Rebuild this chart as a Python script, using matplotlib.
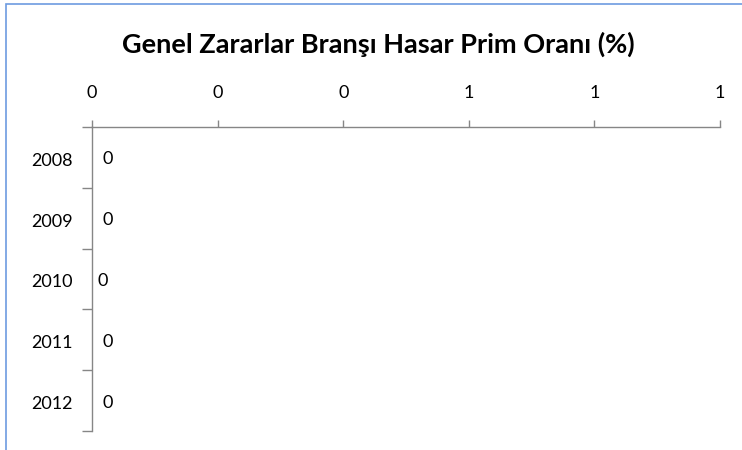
import matplotlib
matplotlib.use("Agg")
import matplotlib.pyplot as plt
import matplotlib.transforms as mtransforms
from matplotlib.patches import Rectangle
from matplotlib.ticker import FixedLocator, FixedFormatter

years = ["2008", "2009", "2010", "2011", "2012"]
values = [0.008, 0.008, 0.0, 0.008, 0.008]
xticks = [0.0, 0.2, 0.4, 0.6, 0.8, 1.0]
xtick_labels = ["0", "0", "0", "1", "1", "1"]
title = "Genel Zararlar Branşı Hasar Prim Oranı (%)"

plt.rcParams['font.family'] = ['Lato', 'DejaVu Sans']

W, H = 742, 450
fig = plt.figure(figsize=(W / 100, H / 100), dpi=100)
fig.patch.set_facecolor("white")

# outer chart border (light blue, left and top visible)
fig.add_artist(Rectangle((6 / W, -0.05), 1.2, 1 - 4 / H + 0.05, transform=fig.transFigure,
                         fill=False, edgecolor="#6d9be0", linewidth=1.2))

left, right, top, bottom = 92 / W, 720 / W, 1 - 127 / H, 1 - 431 / H
ax = fig.add_axes([left, bottom, right - left, top - bottom])
ax.set_facecolor("none")

pos = list(range(len(years)))
bars = ax.barh(pos, values, height=0.6, color="none", edgecolor="none")
ax.set_ylim(len(years) - 0.5, -0.5)
ax.set_xlim(0, 1.0)

for b, v in zip(bars, values):
    ax.annotate("%.0f" % v, xy=(b.get_width(), b.get_y() + b.get_height() / 2),
                xytext=(5 * 0.72, -2 * 0.72), textcoords="offset points",
                ha="left", va="center", fontsize=13, color="#000000")

ax.xaxis.tick_top()
ax.xaxis.set_major_locator(FixedLocator(xticks))
ax.xaxis.set_major_formatter(FixedFormatter(xtick_labels))
ax.tick_params(axis="x", direction="out", length=5, width=1, color="#868686",
               pad=14, labelsize=13, labelcolor="#000000")

ax.yaxis.set_major_locator(FixedLocator([p - 0.5 for p in pos] + [len(years) - 0.5]))
ax.yaxis.set_major_formatter(FixedFormatter([""] * (len(years) + 1)))
ax.yaxis.set_minor_locator(FixedLocator(pos))
ax.yaxis.set_minor_formatter(FixedFormatter(years))
ax.tick_params(axis="y", which="major", direction="out", length=7, width=1, color="#868686")
ax.tick_params(axis="y", which="minor", length=0, pad=14, labelsize=13, labelcolor="#000000")

shift = mtransforms.ScaledTranslation(0, -2 / 100, fig.dpi_scale_trans)
for lbl in ax.yaxis.get_minorticklabels():
    lbl.set_transform(lbl.get_transform() + shift)

for s in ["right", "bottom"]:
    ax.spines[s].set_visible(False)
for s in ["left", "top"]:
    ax.spines[s].set_color("#868686")
    ax.spines[s].set_linewidth(1)

fig.text(378 / W, 1 - 44 / H, title, ha="center", va="center",
         fontsize=19.5, fontweight="bold", color="#000000")

fig.savefig("out.png", dpi=100)
